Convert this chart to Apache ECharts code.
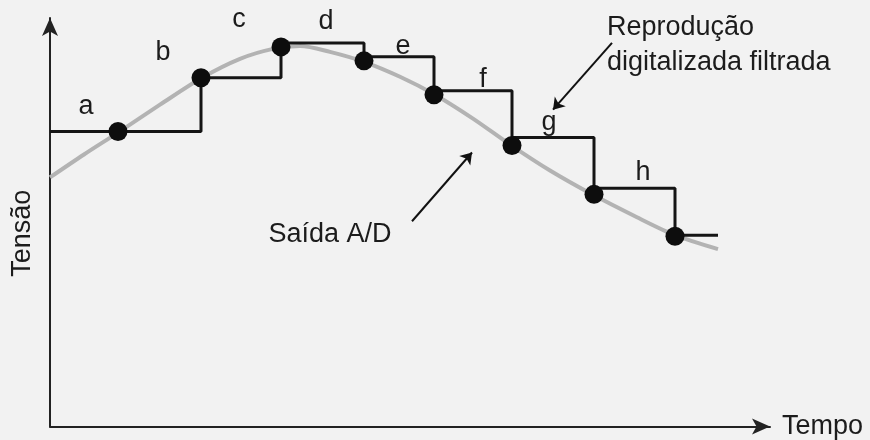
<!DOCTYPE html>
<html>
<head>
<meta charset="utf-8">
<script src="https://cdn.jsdelivr.net/npm/echarts@6/dist/echarts.min.js"></script>
<style>
html, body { margin: 0; padding: 0; background: #f2f2f2; }
#chart { width: 870px; height: 440px; }
</style>
</head>
<body>
<div id="chart"></div>
<script>
// analog signal (gray curve)
var curveTime = [0, 3.4, 6.8, 11.0, 15.2, 19.0, 22.3, 25.0, 28.0, 31.4, 35.0, 38.5, 42.3, 46.0, 50.0, 54.4, 58.3, 62.5, 66.8];
var curveVolt = [25.0, 27.3, 29.5, 32.3, 35.0, 36.9, 37.9, 38.2, 37.6, 36.6, 35.1, 33.3, 30.9, 28.3, 25.7, 23.2, 21.2, 19.2, 17.8];

// samples (black dots) and held levels (step line)
var sampleNames = ['a', 'b', 'c', 'd', 'e', 'f', 'g', 'h'];
var sampleTime = [6.8, 15.1, 23.1, 31.4, 38.4, 46.2, 54.4, 62.5];
var sampleVolt = [29.6, 35.0, 38.1, 36.7, 33.3, 28.2, 23.3, 19.1];
var holdVolt = [29.6, 35.0, 38.5, 37.1, 33.7, 29.0, 23.9, 19.2];
var holdStart = 0;
var holdEnd = 66.8;

// letter label anchors
var letterTime = [3.6, 11.3, 18.9, 27.6, 35.3, 43.3, 49.9, 59.3];
var letterVolt = [32.1, 37.5, 40.8, 40.6, 38.1, 34.8, 30.5, 25.5];

// annotations
var noteText = ['Saída A/D', 'Reprodução', 'digitalizada filtrada'];
var noteTime = [28.0, 55.7, 55.7];
var noteVolt = [19.3, 40.0, 36.5];
var noteAlign = ['center', 'left', 'left'];
var arrowFrom = [[36.2, 20.6], [56.2, 38.5]];
var arrowTo = [[42.2, 27.5], [50.3, 31.8]];

var chart = echarts.init(document.getElementById('chart'));

var curveData = curveTime.map(function (t, i) { return [t, curveVolt[i]]; });
var stepData = [[holdStart, holdVolt[0]]];
for (var i = 1; i < sampleTime.length; i++) {
  stepData.push([sampleTime[i], holdVolt[i]]);
}
stepData.push([holdEnd, holdVolt[holdVolt.length - 1]]);
var dotData = sampleTime.map(function (t, i) { return [t, sampleVolt[i]]; });
var letterData = letterTime.map(function (t, i) { return { name: sampleNames[i], value: [t, letterVolt[i]] }; });
var noteData = noteText.map(function (s, i) {
  return { name: s, value: [noteTime[i], noteVolt[i]], label: { align: noteAlign[i] } };
});
var arrowData = arrowFrom.map(function (p, i) { return { coords: [p, arrowTo[i]] }; });

var font = 'Liberation Sans, Arial, sans-serif';
var textColor = '#1c1c1c';

var option = {
  backgroundColor: '#f2f2f2',
  animation: false,
  grid: { left: 50, right: 100, top: 18, bottom: 12 },
  xAxis: {
    type: 'value', min: 0, max: 72,
    name: 'Tempo', nameLocation: 'end', nameGap: 12,
    nameTextStyle: { fontFamily: font, fontSize: 27, color: textColor },
    axisLine: { lineStyle: { color: '#222', width: 2 }, symbol: ['none', 'arrow'], symbolSize: [12, 18] },
    axisTick: { show: false }, axisLabel: { show: false }, splitLine: { show: false }
  },
  yAxis: {
    type: 'value', min: 0, max: 41,
    name: 'Tensão', nameLocation: 'middle', nameGap: 14, nameRotate: 90,
    nameTextStyle: { fontFamily: font, fontSize: 27, color: textColor, padding: [0, 22, 0, 0] },
    axisLine: { lineStyle: { color: '#222', width: 2 }, symbol: ['none', 'arrow'], symbolSize: [12, 18] },
    axisTick: { show: false }, axisLabel: { show: false }, splitLine: { show: false }
  },
  series: [
    {
      type: 'line', data: curveData, smooth: 0.3, showSymbol: false, z: 1,
      lineStyle: { color: '#b3b3b3', width: 4 }
    },
    {
      type: 'line', data: stepData, step: 'end', showSymbol: false, z: 2,
      lineStyle: { color: '#151515', width: 3 }
    },
    {
      type: 'scatter', data: dotData, symbolSize: 19, z: 3,
      itemStyle: { color: '#0d0d0d', opacity: 1 }
    },
    {
      type: 'scatter', data: letterData, symbolSize: 0, z: 4,
      itemStyle: { opacity: 1 },
      label: { show: true, position: 'inside', formatter: '{b}', fontFamily: font, fontSize: 27, color: textColor }
    },
    {
      type: 'scatter', data: noteData, symbolSize: 0, z: 4,
      itemStyle: { opacity: 1 },
      label: { show: true, position: 'inside', formatter: '{b}', fontFamily: font, fontSize: 27, color: textColor }
    },
    {
      type: 'lines', coordinateSystem: 'cartesian2d', data: arrowData, z: 4,
      symbol: ['none', 'arrow'], symbolSize: 11,
      lineStyle: { color: '#111', width: 2, opacity: 1 }
    }
  ]
};
chart.setOption(option);
</script>
</body>
</html>
